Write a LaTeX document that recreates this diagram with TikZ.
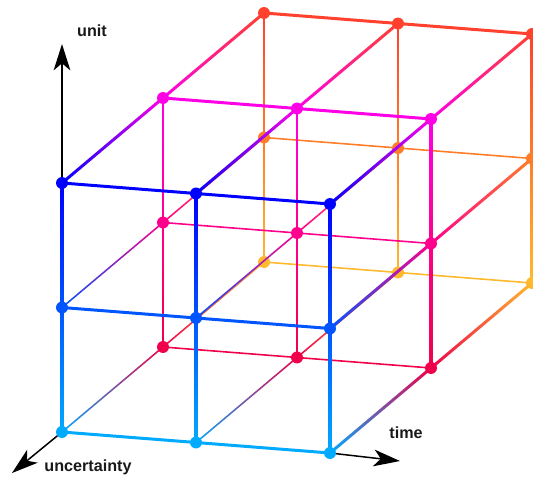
\documentclass[tikz,border=0pt]{standalone}
\usepackage{fontspec}
\setmainfont{Liberation Sans}
\usetikzlibrary{arrows.meta,calc}

% node colours c<layer><row>: layer 0 = front, row 0 = bottom
\definecolor{c00}{RGB}{0,170,255}
\definecolor{c01}{RGB}{0,85,255}
\definecolor{c02}{RGB}{0,0,255}
\definecolor{c10}{RGB}{240,0,75}
\definecolor{c11}{RGB}{255,0,140}
\definecolor{c12}{RGB}{255,0,230}
\definecolor{c20}{RGB}{255,185,45}
\definecolor{c21}{RGB}{255,125,40}
\definecolor{c22}{RGB}{255,65,45}

\def\thickw{1.7pt}
\def\thinw{0.9pt}
% widths of the shaded unit edges
\def\thickv{1.5pt}
\def\thinv{0.65pt}

% edge from #1 to #2, colour running from #3 to #4, width #5
\newcommand{\gradline}[5]{%
  \pgfpointdiff{\pgfpointanchor{#1}{center}}{\pgfpointanchor{#2}{center}}
  \pgfgetlastxy{\dx}{\dy}
  \pgfmathsetmacro{\ang}{atan2(\dy,\dx)}
  \pgfmathsetmacro{\len}{veclen(\dx,\dy)}
  \begin{scope}[transform canvas={shift={(#1)}, rotate=\ang}]
    \shade[left color=#3, right color=#4] (0pt,-#5/2) rectangle (\len pt,#5/2);
  \end{scope}}

% time and unit edges of layer #1, inner lines of widths #2 and #3
\newcommand{\layeredges}[3]{%
  \foreach \j/\lw in {0/#2,1/#2,2/\thickw}{\foreach \i/\inext in {0/1,1/2}{
    \draw[edge, line width=\lw, draw=c#1\j] (p\i\j#1) -- (p\inext\j#1);
  }}
  \foreach \i/\lw in {0/#3,1/#3,2/\thickv}{\foreach \j/\jn in {0/1,1/2}{
    \gradline{p\i\j#1}{p\i\jn#1}{c#1\j}{c#1\jn}{\lw}
  }}}

% uncertainty edges from layer #1 to layer #2
\newcommand{\depthedges}[2]{%
  \foreach \j/\wj in {0/\thinw,1/\thinw,2/\thickw}{\foreach \i/\wi in {0/\wj,1/\wj,2/\thickw}{
    \gradline{p\i\j#1}{p\i\j#2}{c#1\j}{c#2\j}{\wi}
  }}}

\newcommand{\layerdots}[1]{%
  \foreach \i in {0,1,2}{\foreach \j in {0,1,2}{
    \node[dot, fill=c#1\j] (d\i\j#1) at (p\i\j#1) {};
  }}}

\begin{document}
\begin{tikzpicture}[
  x=0.02cm, y=-0.02cm,
  dot/.style={circle,inner sep=0pt,minimum size=6.8pt},
  edge/.style={line cap=round},
  axis/.style={black, line width=0.85pt, -{Stealth[length=15pt,width=9.5pt,inset=4pt]}},
  lbl/.style={font=\fontsize{9.2}{11}\selectfont\bfseries, text=black!90},
]
\useasboundingbox (0,0) rectangle (533,482);

% ===== lattice points: p<time><unit><uncertainty> ============================
\foreach \k in {0,1,2}{\foreach \j in {0,1,2}{\foreach \i in {0,1,2}{
  \coordinate (p\i\j\k) at ({62+134*\i+101*\k},{432+10.5*\i-124.5*\j-85*\k});
}}}

% ===== axes =================================================================
\coordinate (unittip) at (62,44);
\coordinate (uncerttip) at (12,473);
\coordinate (timetip) at (400,461);
\draw[axis] (p020) -- (unittip);
\draw[axis] (p000) -- (uncerttip);
\draw[axis] (p200) -- (timetip);

\node[lbl] (unitlbl) at (92,31) {unit};
\node[lbl] (uncertlbl) at (88,467) {uncertainty};
\node[lbl] (timelbl) at (406,433) {time};

% ===== back layer ===========================================================
\layeredges{2}{\thinw}{\thinv}
\layerdots{2}

% ===== middle layer =========================================================
\depthedges{1}{2}
\layeredges{1}{\thinw}{\thinv}
\layerdots{1}

% ===== front layer ==========================================================
\depthedges{0}{1}
\layeredges{0}{\thickw}{\thickv}
\layerdots{0}

\end{tikzpicture}
\end{document}
